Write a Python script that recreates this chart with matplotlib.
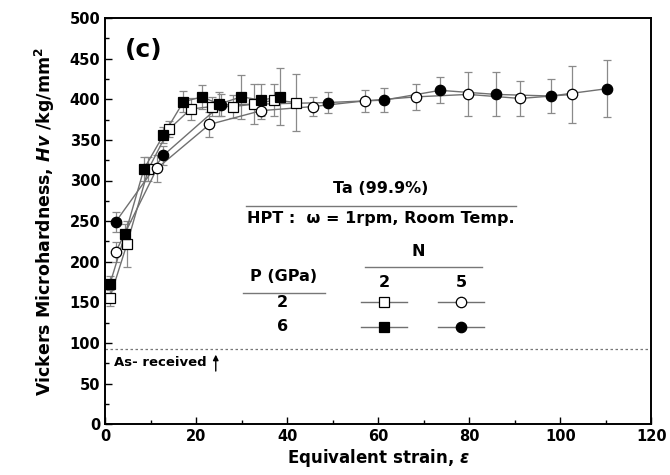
import matplotlib
matplotlib.use("Agg")
import matplotlib.pyplot as plt
from matplotlib.ticker import MultipleLocator

plt.rcParams['font.family'] = ['DejaVu Sans']
plt.rcParams['font.weight'] = 'bold'
plt.rcParams['axes.labelweight'] = 'bold'
plt.rcParams['mathtext.fontset'] = 'custom'
plt.rcParams['mathtext.rm'] = 'DejaVu Sans:bold'
plt.rcParams['mathtext.it'] = 'DejaVu Sans:italic:bold'
plt.rcParams['mathtext.bf'] = 'DejaVu Sans:bold'

# P = 2 GPa, N = 2  (open squares)
x_p2n2 = [1.0, 4.8, 9.5, 14.0, 18.8, 23.4, 28.0, 32.7, 37.2, 42.0]
y_p2n2 = [155, 222, 314, 363, 388, 391, 391, 394, 399, 396]
e_p2n2 = [10, 28, 15, 10, 13, 12, 14, 25, 20, 35]

# P = 2 GPa, N = 5  (open circles)
x_p2n5 = [2.3, 11.4, 22.9, 34.3, 45.6, 57.0, 68.4, 79.8, 91.2, 102.6]
y_p2n5 = [212, 315, 369, 386, 391, 398, 403, 406, 401, 406]
e_p2n5 = [12, 17, 15, 10, 12, 14, 16, 27, 21, 35]

# P = 6 GPa, N = 2  (filled squares)
x_p6n2 = [1.0, 4.4, 8.5, 12.8, 17.2, 21.3, 25.0, 29.9, 34.3, 38.5]
y_p6n2 = [172, 234, 314, 356, 397, 403, 394, 403, 399, 403]
e_p6n2 = [10, 12, 15, 10, 13, 15, 15, 27, 20, 35]

# P = 6 GPa, N = 5  (filled circles)
x_p6n5 = [2.3, 12.8, 25.4, 49.0, 61.3, 73.6, 85.8, 98.0, 110.2]
y_p6n5 = [249, 331, 393, 396, 399, 411, 406, 404, 413]
e_p6n5 = [12, 12, 13, 13, 15, 16, 27, 21, 35]

as_received = 92

fig = plt.figure(figsize=(6.7, 4.75), dpi=100)
ax = fig.add_axes([0.157, 0.107, 0.815, 0.855])

series = [
    (x_p2n2, y_p2n2, e_p2n2, 's', 'white'),
    (x_p2n5, y_p2n5, e_p2n5, 'o', 'white'),
    (x_p6n2, y_p6n2, e_p6n2, 's', 'black'),
    (x_p6n5, y_p6n5, e_p6n5, 'o', 'black'),
]
for xs, ys, es, m, fc in series:
    ax.errorbar(xs, ys, yerr=es, fmt='none', ecolor='#8a8a8a', elinewidth=0.9,
                capsize=3, capthick=0.9, zorder=2)
    ax.plot(xs, ys, color='#707070', lw=1.0, zorder=3)
    ax.plot(xs, ys, ls='none', marker=m, ms=7.5 if m == 'o' else 7,
            mfc=fc, mec='black', mew=0.9, zorder=4)

ax.axhline(as_received, color='#777777', ls=(0, (2, 2)), lw=0.9)
ax.text(2.0, 76, 'As- received', fontsize=9.5, va='center', ha='left')
ax.annotate('', xy=(24.3, 89), xytext=(24.3, 62),
            arrowprops=dict(arrowstyle='-|>', color='black', lw=1.0,
                            mutation_scale=8))

ax.text(8.4, 461, '(c)', fontsize=18, ha='center', va='center')

# table-style legend
ax.text(60.5, 290, 'Ta (99.9%)', fontsize=11.5, ha='center', va='center')
ax.plot([31, 90.3], [269, 269], color='#777777', lw=1.0)
ax.text(60.5, 253, 'HPT :  \u03c9 = 1rpm, Room Temp.', fontsize=11.5,
        ha='center', va='center')
ax.text(68.7, 213, 'N', fontsize=11.5, ha='center', va='center')
ax.plot([57, 82.8], [193, 193], color='#777777', lw=1.0)
ax.text(61.3, 175, '2', fontsize=11.5, ha='center', va='center')
ax.text(78.2, 175, '5', fontsize=11.5, ha='center', va='center')
ax.text(39.3, 182, 'P (GPa)', fontsize=11.5, ha='center', va='center')
ax.plot([30.2, 48.4], [162, 162], color='#777777', lw=1.0)
ax.text(39.0, 150, '2', fontsize=11.5, ha='center', va='center')
ax.text(39.0, 120, '6', fontsize=11.5, ha='center', va='center')
for xk, yk, m, fc in [(61.3, 151, 's', 'white'), (78.2, 151, 'o', 'white'),
                      (61.3, 120, 's', 'black'), (78.2, 120, 'o', 'black')]:
    ax.plot([xk - 5, xk + 5], [yk, yk], color='#707070', lw=1.0)
    ax.plot([xk], [yk], ls='none', marker=m, ms=7.5 if m == 'o' else 7,
            mfc=fc, mec='black', mew=0.9)

ax.set_xlim(0, 120)
ax.set_ylim(0, 500)
ax.xaxis.set_major_locator(MultipleLocator(20))
ax.xaxis.set_minor_locator(MultipleLocator(10))
ax.yaxis.set_major_locator(MultipleLocator(50))
ax.yaxis.set_minor_locator(MultipleLocator(25))
ax.tick_params(which='both', direction='in', top=False, right=False,
               labelsize=10.5, width=1.0)
ax.tick_params(which='major', length=5)
ax.tick_params(which='minor', length=3)
for s in ax.spines.values():
    s.set_linewidth(1.4)

ax.set_xlabel('Equivalent strain, $\\varepsilon$', fontsize=12, labelpad=2)
ax.set_ylabel('Vickers Microhardness, $Hv$ /kg/mm$^2$', fontsize=12.5, labelpad=9)

plt.savefig('out.png', dpi=100)
